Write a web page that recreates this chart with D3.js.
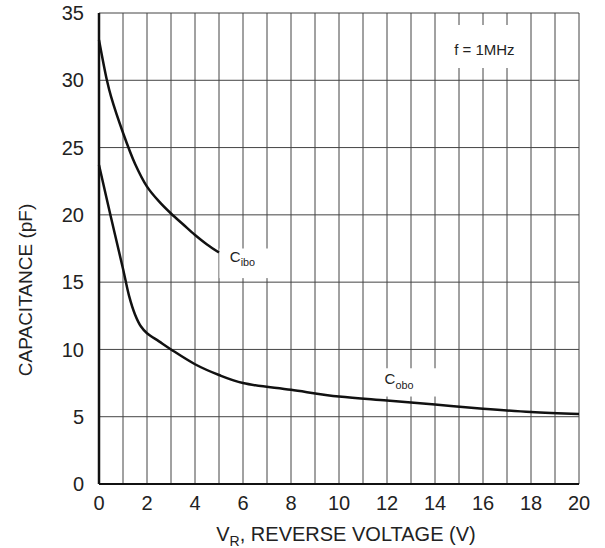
<!DOCTYPE html>
<html>
<head>
<meta charset="utf-8">
<style>
html, body { margin:0; padding:0; background:white; }
svg { display:block; font-family:"Liberation Sans", Arial, sans-serif; }
</style>
</head>
<body>
<div id="chart"></div>
<script src="https://d3js.org/d3.v7.min.js"></script>
<script>
// reverse voltage (V) / capacitance (pF)
const cIboV = [0, 0.33, 0.5, 1, 1.5, 2, 2.5, 3, 3.5, 4, 4.5, 5];
const cIboC = [33.0, 30.0, 28.8, 26.1, 23.8, 22.1, 21.0, 20.1, 19.3, 18.5, 17.8, 17.2];

const cOboV = [0, 0.5, 1, 1.25, 1.5, 1.75, 2, 2.5, 3, 4, 5, 6, 8, 10, 12, 14, 16, 18, 20];
const cOboC = [23.7, 19.8, 16.0, 14.0, 12.6, 11.7, 11.2, 10.6, 10.0, 8.9, 8.1, 7.5, 7.0, 6.5, 6.2, 5.9, 5.6, 5.35, 5.2];

const xTicks = [0, 2, 4, 6, 8, 10, 12, 14, 16, 18, 20];
const yTicks = [0, 5, 10, 15, 20, 25, 30, 35];

const W = 605, H = 548;
const margin = {top: 13, right: 26, bottom: 64, left: 99};
const width = W - margin.left - margin.right,
      height = H - margin.top - margin.bottom;

const svg = d3.select("#chart").append("svg")
  .attr("width", W).attr("height", H);
const g = svg.append("g").attr("transform", `translate(${margin.left},${margin.top})`);

const x = d3.scaleLinear().domain([0, 20]).range([0, width]);
const y = d3.scaleLinear().domain([0, 35]).range([height, 0]);

// grid
g.append("g")
  .selectAll("line")
  .data(d3.range(0, 21))
  .join("line")
  .attr("x1", d => x(d)).attr("x2", d => x(d))
  .attr("y1", 0).attr("y2", height)
  .attr("stroke", "#444").attr("stroke-width", 1);
g.append("g")
  .selectAll("line")
  .data(yTicks)
  .join("line")
  .attr("x1", 0).attr("x2", width)
  .attr("y1", d => y(d)).attr("y2", d => y(d))
  .attr("stroke", "#444").attr("stroke-width", 1);

// axes frame
g.append("line").attr("x1", 0).attr("x2", 0).attr("y1", 0).attr("y2", height)
  .attr("stroke", "#111").attr("stroke-width", 2.5);
g.append("line").attr("x1", 0).attr("x2", width).attr("y1", height).attr("y2", height)
  .attr("stroke", "#111").attr("stroke-width", 2);

// label boxes (white, cut the grid)
function label(xp, yp, main, sub, size) {
  const t = g.append("text").attr("x", xp).attr("y", yp)
    .attr("font-size", size).attr("fill", "#222");
  t.append("tspan").text(main);
  if (sub) t.append("tspan").attr("font-size", size * 0.72).attr("dy", 4.5).text(sub);
  return t;
}
function box(x0, y0, x1, y1) {
  g.append("rect").attr("x", x0).attr("y", y0)
    .attr("width", x1 - x0).attr("height", y1 - y0).attr("fill", "white");
}
box(x(14.7), 12, x(17.6), 55);
box(x(5.02), y(17.5), x(7.2), y(15.3));
box(x(11.8), y(8.6), x(14.4), y(6.5));

label(x(14.8), 42, "f = 1MHz", null, 15);
label(x(5.45), y(16.5), "C", "ibo", 15);
label(x(11.9), y(7.4), "C", "obo", 15);

// curves
const line = d3.line().x(d => x(d[0])).y(d => y(d[1])).curve(d3.curveCatmullRom.alpha(0.5));
g.append("path").datum(d3.zip(cIboV, cIboC))
  .attr("d", line).attr("fill", "none").attr("stroke", "#111").attr("stroke-width", 2.5);
g.append("path").datum(d3.zip(cOboV, cOboC))
  .attr("d", line).attr("fill", "none").attr("stroke", "#111").attr("stroke-width", 2.5);

// tick labels
g.append("g").selectAll("text").data(xTicks).join("text")
  .attr("x", d => x(d)).attr("y", height + 26)
  .attr("text-anchor", "middle").attr("font-size", 20).attr("fill", "#222")
  .text(d => d);
g.append("g").selectAll("text").data(yTicks).join("text")
  .attr("x", -15).attr("y", d => y(d)).attr("dy", "0.36em")
  .attr("text-anchor", "end").attr("font-size", 20).attr("fill", "#222")
  .text(d => d);

// axis titles
const xt = svg.append("text").attr("x", 346).attr("y", 541)
  .attr("text-anchor", "middle").attr("font-size", 20).attr("fill", "#222");
xt.append("tspan").text("V");
xt.append("tspan").attr("font-size", 14).attr("dy", 5).text("R");
xt.append("tspan").attr("dy", -5).text(", REVERSE VOLTAGE (V)");

svg.append("text")
  .attr("transform", "translate(32,290) rotate(-90)")
  .attr("text-anchor", "middle").attr("font-size", 19).attr("fill", "#222")
  .text("CAPACITANCE (pF)");
</script>
</body>
</html>
